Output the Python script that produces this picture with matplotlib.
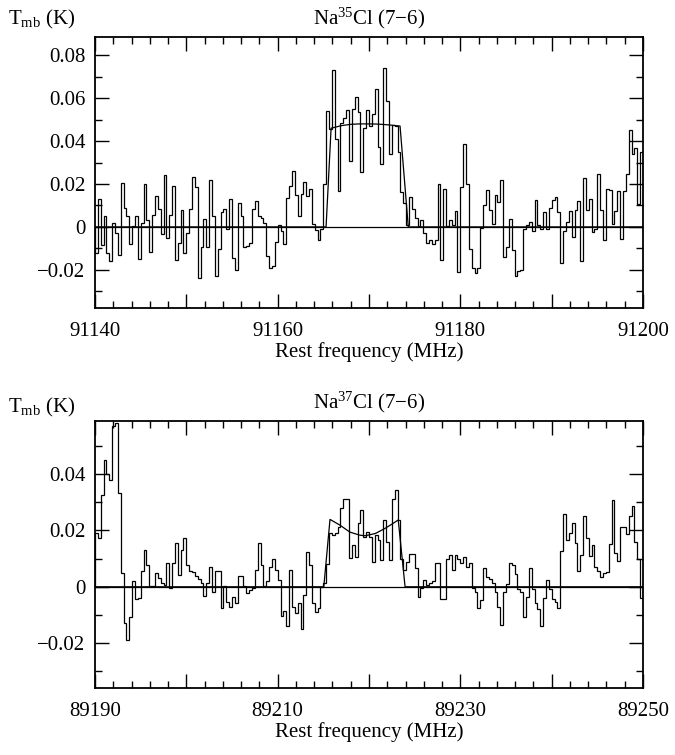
import numpy as np
import matplotlib
matplotlib.use('Agg')
import matplotlib.pyplot as plt
from matplotlib.ticker import MultipleLocator, FuncFormatter

plt.rcParams['font.family'] = ['Liberation Serif', 'DejaVu Serif']
plt.rcParams['mathtext.fontset'] = 'custom'
plt.rcParams['mathtext.rm'] = 'Liberation Serif'
plt.rcParams['mathtext.it'] = 'Liberation Serif:italic'

# channel grid (MHz)
chan_width = 0.3125
f0_35 = 91140.0
f0_37 = 89190.0

# Na35Cl (7-6) spectrum, Tmb (K) per channel
tmb_35 = [
    -0.012, 0.013, -0.0085, 0.005, -0.012, -0.016, 0.002, -0.003, -0.013, 0.0205,
    0.009, 0.005, -0.008, 0.0005, 0.005, -0.015, 0.002, 0.020, 0.003, -0.0116,
    0.0054, 0.0144, 0.0085, -0.0034, 0.0243, -0.0054, 0.0057, 0.019, -0.0155, -0.0073,
    0.0078, -0.0124, -0.0028, 0.0085, 0.0233, 0.0186, -0.024, -0.0096, 0.0039, -0.0096,
    0.0217, 0.005, -0.023, -0.0105, 0.007, 0.0085,
    -0.001, 0.013, -0.0147, -0.020, 0.011, 0.005, -0.0096, -0.009, -0.0075, 0.0085,
    0.012, 0.005, 0.004, 0.002, -0.0137, -0.019, -0.018, -0.007, 0.001, -0.002,
    -0.008, 0.0136, 0.019, 0.026, 0.015, 0.005, 0.0155, 0.021, 0.0144, 0.0178,
    0.0015, -0.0016, -0.0062, -0.0008, 0.020, 0.0538, 0.0457, 0.0729, 0.041, 0.0166,
    0.0485, 0.0507, 0.0546, 0.0307, 0.055, 0.0605, 0.0535,
    0.0256, 0.0462, 0.0547, 0.0468, 0.0527, 0.0643, 0.0372, 0.0295, 0.0739, 0.0589,
    0.0338, 0.0473, 0.0468, 0.0349, 0.0163, 0.0112, 0.0008, 0.014, 0.0085, 0.0042,
    0.0005, 0.003, -0.003, -0.0074, -0.0059, -0.0078, -0.0062, 0.020, -0.0155, 0.0178,
    0.0005, 0.003, 0.0008, 0.0074, -0.0212, 0.0186, 0.0388, 0.020, -0.0105, -0.019,
    -0.0217, -0.019, -0.0003, 0.010, 0.0174, 0.0078, 0.0015, 0.015,
    0.0116, 0.022, -0.014, -0.0096, 0.0039, -0.011, -0.023, -0.0206, -0.020, -0.0012,
    0.001, 0.0023, -0.002, 0.0127, 0.0008, -0.001, 0.007, -0.0012, 0.0088, 0.0124,
    0.014, 0.007, -0.0167, -0.002, 0.0023, 0.0073, -0.0046, 0.008, 0.0121, -0.0158,
    0.0229, 0.0078, 0.013, -0.0026, -0.0012, 0.0245, 0.008, -0.0062, 0.0178, 0.017,
    0.0015, 0.0074, 0.0167, -0.0057, 0.0167, 0.0248, 0.0453, 0.0341, 0.0367, 0.0109,
    0.0349,
]

# Na37Cl (7-6) spectrum, Tmb (K) per channel
tmb_37 = [
    0.0189, 0.0172, 0.0325, 0.045, 0.040, 0.038, 0.057, 0.058, 0.0334, 0.005,
    -0.013, -0.019, -0.0106, 0.002, -0.0044, -0.004, 0.0057, 0.013, 0.0077, 0.0002,
    0.0002, 0.005, 0.003, 0.0015, 0.0006, 0.0083, -0.0004, 0.0083, 0.0156, 0.0041,
    0.0132, 0.0172, 0.0077, 0.0056, 0.0051, 0.0039, 0.0027, 0.0015, -0.0032, 0.0014,
    0.0071, -0.0018, 0.0056, 0.0056, -0.0077, 0.0004, -0.0053, -0.0071,
    -0.0035, -0.0057, 0.0038, 0.0038, 0.0004, -0.0021, -0.0012, -0.0006, 0.0059, 0.0157,
    0.0077, 0.0004, 0.0021, 0.0071, 0.010, 0.006, 0.0024, -0.0103, -0.0086, -0.014,
    0.0059, -0.0071, -0.0092, -0.0057, -0.0148, -0.003, 0.0124, 0.0077, -0.0057, -0.0091,
    -0.0077, -0.0002, 0.0015, 0.008, 0.0189, 0.0183, 0.0192, 0.0213, 0.0278, 0.0313,
    0.0313, 0.0103, 0.0148, 0.0106, 0.0225, 0.0274, 0.0177,
    0.0195, 0.0175, 0.0089, 0.0183, 0.0165, 0.0095, 0.0237, 0.016, 0.0095, 0.0313,
    0.0345, 0.0237, 0.010, 0.0059, 0.0089, 0.0118, 0.0118, 0.0065, -0.0035, -0.0006,
    0.0024, 0.0006, 0.0015, 0.0021, 0.0085, 0.0085, -0.0044, -0.0044, 0.010, 0.0112,
    0.0059, 0.0112, 0.0097, 0.0083, 0.0106, 0.0071, 0.0083, -0.0006, -0.0018, -0.0077,
    -0.0047, 0.0065, 0.0035, 0.0026, 0.0015,
    -0.0018, -0.0071, -0.0134, -0.0018, 0.0009, 0.0083, 0.0078, 0.0045, -0.0008, -0.0018,
    -0.0106, -0.0035, 0.0065, -0.0009, -0.0059, -0.008, -0.014, -0.0041, 0.0024, -0.0009,
    -0.0045, -0.0053, -0.0077, 0.0127, 0.0257, 0.0166, 0.0192, 0.0227, 0.0154, 0.0057,
    0.0112, 0.0251, 0.0174, 0.011, 0.0148, 0.0071, 0.0057, 0.0035, 0.005, 0.0053,
    0.015, 0.0308, 0.0121, 0.0091, 0.0213, 0.0213, 0.0187, 0.0251, 0.0286, 0.016,
    0.01, -0.0041,
]

# fitted line profiles
fit_f_35 = [91140, 91165.3, 91165.85, 91167.0, 91168.0, 91169.0, 91170.0, 91171.0,
            91172.0, 91173.4, 91174.3, 91200]
fit_t_35 = [0, 0, 0.046, 0.0472, 0.0478, 0.048, 0.048, 0.0479, 0.0476, 0.047, 0, 0]

fit_f_37 = [89190, 89215.05, 89215.73, 89216.8, 89217.9, 89219.0, 89219.6, 89220.7,
            89221.75, 89222.5, 89223.2, 89223.95, 89250]
fit_t_37 = [0, 0, 0.0239, 0.0219, 0.0194, 0.0183, 0.0181, 0.0189, 0.0207, 0.0222,
            0.0237, 0, 0]


def yfmt(v, pos):
    if abs(v) < 1e-9:
        return '0'
    return ('%.2f' % v).replace('-', '\u2212')


def make_xfmt(xstart):
    # label every 20 MHz counted from the left edge
    def xfmt(v, pos):
        if int(round(v - xstart)) % 20 == 0:
            return '%d' % round(v)
        return ''
    return FuncFormatter(xfmt)


def spectrum_panel(ax, f0, tmb, fit_f, fit_t, xlim, ylim, title):
    tmb = np.array(tmb)
    edges = f0 + chan_width * np.arange(len(tmb) + 1)
    ax.stairs(tmb, edges, color='black', lw=0.9)
    ax.plot(fit_f, fit_t, color='black', lw=0.9)
    ax.axhline(0, color='black', lw=0.9)
    ax.set_xlim(xlim)
    ax.set_ylim(ylim)
    ax.xaxis.set_major_locator(MultipleLocator(10))
    ax.xaxis.set_minor_locator(MultipleLocator(2))
    ax.yaxis.set_major_locator(MultipleLocator(0.02))
    ax.yaxis.set_minor_locator(MultipleLocator(0.01))
    ax.xaxis.set_major_formatter(make_xfmt(xlim[0]))
    ax.yaxis.set_major_formatter(FuncFormatter(yfmt))
    ax.tick_params(which='both', direction='in', top=True, right=True, labelsize=15)
    ax.tick_params(which='major', length=10, width=1)
    ax.tick_params(which='minor', length=5, width=1)
    ax.tick_params(axis='x', pad=10)
    ax.tick_params(axis='y', pad=7)
    for s in ax.spines.values():
        s.set_linewidth(1.3)
    ax.set_xlabel('Rest frequency (MHz)', fontsize=15, labelpad=1)
    ax.set_title(title, fontsize=15, pad=9)


fig = plt.figure(figsize=(6.75, 7.55), dpi=100)

ax1 = fig.add_axes([95/675, 1 - 308/755, 548/675, 271/755])
spectrum_panel(ax1, f0_35, tmb_35, fit_f_35, fit_t_35, (91140, 91200), (-0.0378, 0.0885),
               'Na$^{35}$Cl (7\u22126)')
fig.text(8/675, 1 - 24/755, r'T$_{\rm mb}$ (K)', fontsize=15)

ax2 = fig.add_axes([95/675, 1 - 688/755, 548/675, 267/755])
spectrum_panel(ax2, f0_37, tmb_37, fit_f_37, fit_t_37, (89190, 89250), (-0.0359, 0.0588),
               'Na$^{37}$Cl (7\u22126)')
fig.text(8/675, 1 - 412/755, r'T$_{\rm mb}$ (K)', fontsize=15)

plt.savefig('out.png', dpi=100)
